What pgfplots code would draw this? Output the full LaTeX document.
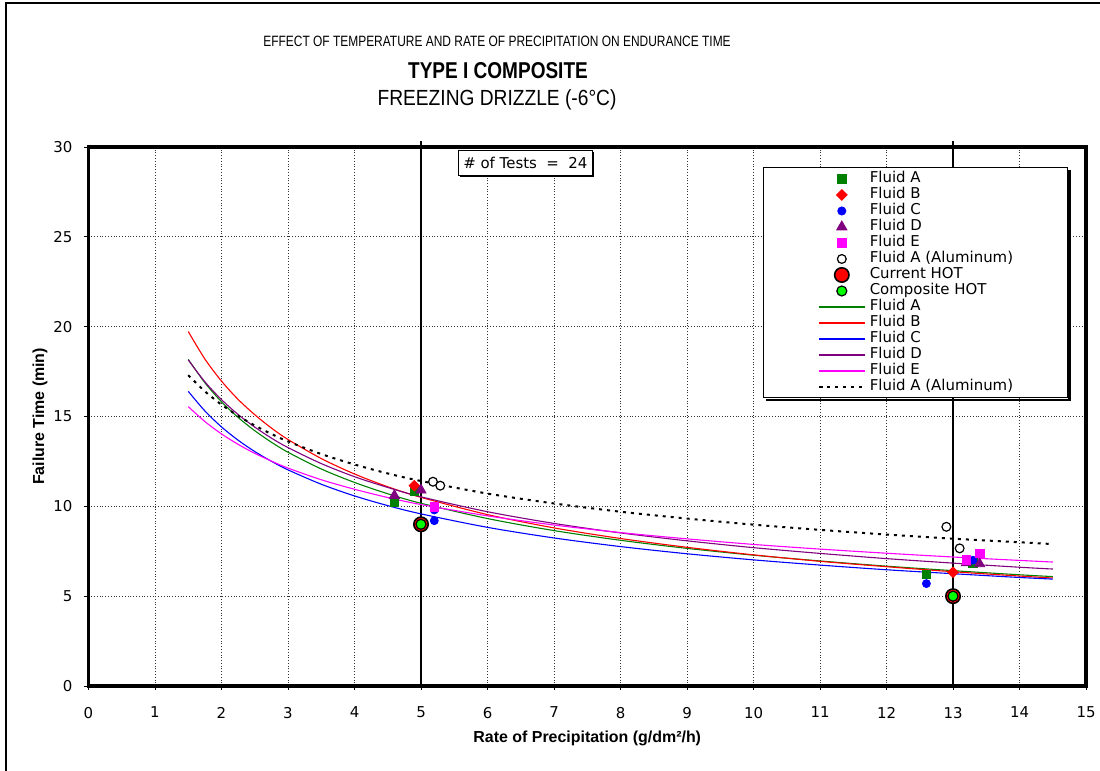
\documentclass[border=0pt]{standalone}
\usepackage{fontspec}
\setmainfont{Liberation Sans}
\newfontfamily\geneva{DejaVu Sans}
\usepackage{pgfplots}
\pgfplotsset{compat=1.18}
\usetikzlibrary{shadows}

\definecolor{fluidA}{RGB}{0,128,0}
\definecolor{fluidB}{RGB}{255,0,0}
\definecolor{fluidC}{RGB}{0,0,255}
\definecolor{fluidD}{RGB}{128,0,128}
\definecolor{fluidE}{RGB}{255,0,255}
\definecolor{hotgreen}{RGB}{0,255,0}

\newcommand{\gfont}{\geneva\fontsize{7.5}{8}\selectfont}

\begin{document}
\begin{tikzpicture}
\useasboundingbox (0,0) rectangle (550bp,385.5bp);
\clip (0,0) rectangle (550bp,385.5bp);
% page frame
\draw[line width=1bp] (3bp,-5bp) -- (3bp,384bp) -- (560bp,384bp);
% titles
\node at (248.5bp,365bp) {\scalebox{0.8}[1]{\fontsize{7.5}{9}\selectfont EFFECT OF TEMPERATURE AND RATE OF PRECIPITATION ON ENDURANCE TIME}};
\node at (249bp,350bp) {\scalebox{0.83}[1]{\fontsize{11.5}{13}\selectfont\bfseries TYPE I COMPOSITE}};
\node at (248.5bp,335.5bp) {\scalebox{0.875}[1]{\fontsize{11}{13}\selectfont FREEZING DRIZZLE (-6°C)}};

\begin{axis}[
  at={(44.25bp,42.5bp)}, anchor=south west,
  scale only axis, width=498.75bp, height=269.5bp,
  xmin=0, xmax=15, ymin=0, ymax=30,
  xtick={0,1,...,15}, ytick={0,5,...,30},
  xtick pos=left, ytick pos=left,
  tick align=outside, major tick length=2bp,
  tick style={black, line width=0.5bp},
  axis line style={line width=1.75bp},
  grid=major,
  grid style={densely dotted, line width=0.5bp, black!80},
  clip=false,
  /pgf/number format/assume math mode=true,
  tick label style={font=\gfont},
  xticklabel style={yshift=-5bp},
  yticklabel style={xshift=-2.5bp},
  every axis x label/.style={at={(axis description cs:0.5,-0.0965)}, anchor=center, font=\bfseries\fontsize{8}{10}\selectfont},
  every axis y label/.style={at={(axis description cs:-0.0486,0.5)}, anchor=center, rotate=90, font=\bfseries\fontsize{8}{10}\selectfont},
  xlabel={Rate of Precipitation (g/dm²/h)},
  ylabel={Failure Time (min)},
  legend image code/.code={\draw[mark repeat=2,mark phase=2,#1] plot coordinates {(0bp,0bp) (11.5bp,0bp) (23bp,0bp)};},
  legend cell align=left,
  legend style={name=leg, at={(0.6765,0.962)}, anchor=north west, draw=black, line width=0.5bp, fill=white,
    inner xsep=27bp, inner ysep=1.5bp, font=\gfont, row sep=0pt,
    nodes={inner sep=0pt, text height=5.7bp, text depth=2.3bp},
    /tikz/every odd column/.style={column sep=2bp}},
]
% solid reference lines at the two test rates
\addplot[black, line width=0.75bp, forget plot] coordinates {(5,0) (5,30.35)};
\addplot[black, line width=0.75bp, forget plot] coordinates {(13,0) (13,30.35)};

% measured failure times
\addplot[only marks, mark=square*, mark size=2.1bp, color=fluidA, fill=fluidA]
  coordinates {(4.6,10.25) (4.9,10.85) (12.6,6.2) (13.3,6.85)};
\addlegendentry{Fluid A}
\addplot[only marks, mark=square*, mark size=1.85bp, mark options={rotate=45}, color=fluidB, fill=fluidB]
  coordinates {(4.9,11.15) (13.0,6.33)};
\addlegendentry{Fluid B}
\addplot[only marks, mark=*, mark size=2bp, color=fluidC, fill=fluidC]
  coordinates {(5.2,9.2) (5.2,9.8) (12.6,5.7) (13.3,7.0)};
\addlegendentry{Fluid C}
\addplot[only marks, mark=triangle*, mark size=2.9bp, color=fluidD, fill=fluidD]
  coordinates {(4.6,10.6) (5.0,10.9) (13.2,6.85) (13.4,6.8)};
\addlegendentry{Fluid D}
\addplot[only marks, mark=square*, mark size=2.2bp, color=fluidE, fill=fluidE]
  coordinates {(5.2,9.95) (13.2,7.0) (13.4,7.38)};
\addlegendentry{Fluid E}
\addplot[only marks, mark=*, mark size=2.2bp, draw=black, fill=white, line width=0.6bp]
  coordinates {(5.18,11.37) (5.29,11.15) (12.9,8.86) (13.1,7.66)};
\addlegendentry{Fluid A (Aluminum)}
\addplot[only marks, mark=*, mark size=3.6bp, draw=black, fill=fluidB, line width=0.8bp]
  coordinates {(5,9) (13,5)};
\addlegendentry{Current HOT}
\addplot[only marks, mark=*, mark size=2.5bp, draw=black, fill=hotgreen, line width=0.6bp]
  coordinates {(5,9) (13,5)};
\addlegendentry{Composite HOT}

% power-law trend lines
\addplot[fluidA, line width=0.55bp, smooth] coordinates {
 (1.5,18.18) (1.75,16.88) (2,15.82) (2.25,14.95) (2.5,14.21) (2.75,13.57) (3,13.01) (3.5,12.08) (4,11.33) (4.5,10.70) (5,10.17)
 (6,9.32) (7,8.65) (8,8.11) (9,7.66) (10,7.28) (11,6.96) (12,6.67) (13,6.42) (14,6.19) (14.5,6.09)};
\addlegendentry{Fluid A}
\addplot[fluidB, line width=0.55bp, smooth] coordinates {
 (1.5,19.73) (1.75,18.20) (2,16.97) (2.25,15.95) (2.5,15.10) (2.75,14.36) (3,13.72) (3.5,12.66) (4,11.80) (4.5,11.09) (5,10.50)
 (6,9.54) (7,8.80) (8,8.21) (9,7.72) (10,7.30) (11,6.94) (12,6.64) (13,6.36) (14,6.12) (14.5,6.01)};
\addlegendentry{Fluid B}
\addplot[fluidC, line width=0.55bp, smooth] coordinates {
 (1.5,16.40) (1.75,15.31) (2,14.42) (2.25,13.68) (2.5,13.05) (2.75,12.51) (3,12.03) (3.5,11.23) (4,10.58) (4.5,10.04) (5,9.58)
 (6,8.83) (7,8.24) (8,7.76) (9,7.36) (10,7.02) (11,6.73) (12,6.47) (13,6.25) (14,6.04) (14.5,5.95)};
\addlegendentry{Fluid C}
\addplot[fluidD, line width=0.55bp, smooth] coordinates {
 (1.5,18.15) (1.75,16.93) (2,15.94) (2.25,15.11) (2.5,14.41) (2.75,13.80) (3,13.27) (3.5,12.38) (4,11.65) (4.5,11.05) (5,10.53)
 (6,9.70) (7,9.05) (8,8.52) (9,8.08) (10,7.70) (11,7.38) (12,7.09) (13,6.84) (14,6.61) (14.5,6.51)};
\addlegendentry{Fluid D}
\addplot[fluidE, line width=0.55bp, smooth] coordinates {
 (1.5,15.55) (1.75,14.72) (2,14.03) (2.25,13.45) (2.5,12.95) (2.75,12.52) (3,12.13) (3.5,11.48) (4,10.95) (4.5,10.49) (5,10.10)
 (6,9.47) (7,8.96) (8,8.54) (9,8.19) (10,7.88) (11,7.62) (12,7.39) (13,7.18) (14,6.99) (14.5,6.90)};
\addlegendentry{Fluid E}
\addplot[black, line width=1bp, dash pattern=on 1.5bp off 2.5bp, smooth] coordinates {
 (1.5,17.30) (1.75,16.40) (2,15.66) (2.25,15.04) (2.5,14.50) (2.75,14.03) (3,13.61) (3.5,12.91) (4,12.33) (4.5,11.83) (5,11.41)
 (6,10.71) (7,10.16) (8,9.70) (9,9.32) (10,8.98) (11,8.69) (12,8.43) (13,8.20) (14,8.00) (14.5,7.90)};
\addlegendentry{Fluid A (Aluminum)}

\node[draw=black, fill=white, line width=0.5bp, anchor=north, inner xsep=2.5bp, inner ysep=3.5bp,
  font=\gfont, drop shadow={shadow xshift=0.8bp, shadow yshift=-0.8bp, opacity=1, fill=black}]
  at (axis cs:6.57,29.85) {\# of Tests~~=~~24};
\end{axis}
% shadow strips along the right and bottom edges of the legend box
\fill[black] ([shift={(0.25bp,-1.4bp)}]leg.north east) rectangle ([shift={(1.5bp,-1.5bp)}]leg.south east);
\fill[black] ([shift={(1.4bp,-0.25bp)}]leg.south west) rectangle ([shift={(1.5bp,-1.5bp)}]leg.south east);
\end{tikzpicture}
\end{document}
